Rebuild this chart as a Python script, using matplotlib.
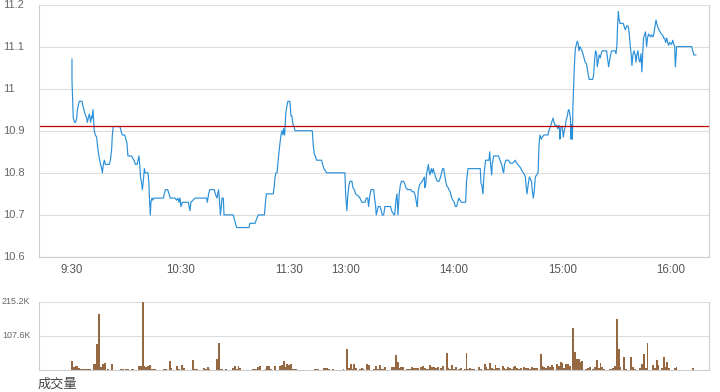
import numpy as np
import matplotlib.pyplot as plt

# Intraday price (minutes after 9:30, lunch break squeezed out, 13:00 = 151)
price_min = [0, 0, 0.5, 0.7, 1.5, 2, 2.6, 3, 3.5, 4, 5.5, 6, 6.6, 7.2, 8.1, 8.5, 9, 9.6, 10, 10.3,
             10.9, 11.2, 11.6, 12, 12.3, 12.9, 13.6, 14.2, 14.7, 15.3, 15.8, 16.4, 16.8, 17.3, 17.9,
             18.4, 20.6, 21.2, 21.9, 22.3, 22.8, 26.5, 27.1, 27.8, 29.1, 29.8, 30.4, 30.9, 33, 33.5,
             34.3, 35, 35.9, 36.5, 37, 37.4, 37.9, 38.5, 38.9, 39.4, 40, 40.5, 42, 42.5, 42.9, 43.3,
             43.6, 44.2, 44.6, 45.3, 50.5, 51, 51.7, 52.9, 53.6, 54.3, 56.9, 57.8, 58.6, 59.1, 59.7,
             60.2, 61, 64.3, 65.2, 65.7, 68, 74.4, 74.8, 75.5, 76.2, 78.6, 79.2, 80.1, 81, 81.4, 82,
             82.5, 82.9, 83.6, 84, 89.1, 89.7, 91, 97.8, 98.3, 101.1, 102, 102.9, 106.3, 106.8, 107.4,
             111.2, 111.8, 112.2, 112.7, 113.3, 113.8, 114.4, 114.9, 115.5, 116, 116.6, 116.9, 117.5,
             117.9, 118.2, 118.8, 119.3, 120.4, 121, 121.5, 122.1, 122.7, 123.2, 132.8, 133.3, 133.9,
             134.4, 135.2, 137.9, 138.5, 139.2, 140.7, 150.8, 151.2, 151.9, 152.4, 153, 153.6, 154.7,
             155.2, 156, 156.7, 158.2, 159.1, 160.2, 161.9, 162.6, 163.4, 163.9, 164.5, 165.2, 166.7,
             167.2, 167.8, 168.1, 168.7, 169.2, 170.2, 170.9, 171.4, 172.2, 172.9, 176, 176.6, 177.9,
             178.3, 179, 179.6, 180.1, 180.8, 181.4, 182, 183.1, 183.8, 184.5, 185.4, 187.3, 188, 189,
             189.7, 190.3, 190.8, 191.3, 191.9, 192.6, 193.6, 194.1, 194.7, 194.9, 195.4, 196, 196.5,
             196.9, 197.3, 197.8, 198.5, 199.1, 199.6, 200.2, 200.9, 201.8, 202.8, 203.7, 204.2, 204.8,
             205.4, 205.9, 206.5, 207, 207.8, 208.3, 209, 209.8, 210.5, 211.2, 211.8, 212.5, 213.1,
             213.8, 214.4, 215.1, 217.5, 218, 218.8, 225.6, 226, 226.5, 227.1, 227.4, 228, 228.6, 230.4,
             230.8, 231.3, 231.9, 232.2, 233, 235.7, 236.5, 237.4, 238.1, 238.5, 239, 239.8, 241.2, 242,
             243.6, 244.4, 244.9, 245.7, 246.4, 247.3, 248.1, 248.6, 249.4, 250.1, 250.5, 251, 251.4,
             252, 252.7, 253.3, 253.9, 254.3, 254.9, 255.5, 256, 256.7, 257.5, 258.1, 258.6, 259.3,
             259.9, 260.8, 263, 263.5, 264.3, 265, 265.8, 266.3, 266.9, 267.8, 268.4, 269.1, 269.5,
             269.6, 270.2, 270.9, 271.5, 272, 272.6, 273, 273.7, 274.3, 274.8, 275.4, 275.7, 276.1,
             276.5, 276.8, 277.2, 277.6, 278.1, 278.6, 279.2, 279.7, 280.1, 280.7, 281.2, 281.8, 282.5,
             283.1, 283.6, 284.2, 284.7, 285.3, 285.8, 287.7, 288.2, 288.8, 289.3, 289.9, 290.2, 290.8,
             291.3, 291.9, 292.4, 293, 295.4, 296, 296.5, 297.1, 297.6, 298.2, 300, 300.6, 301.1, 301.5,
             301.9, 302.2, 302.8, 304.6, 305.2, 305.7, 306.3, 306.8, 307.4, 307.9, 308.5, 309, 309.4,
             309.9, 310.5, 311.2, 311.6, 312.1, 312.7, 313.2, 313.8, 314.4, 314.9, 315.3, 315.8, 316.4,
             316.9, 317.5, 318, 318.6, 319.7, 320.2, 321, 321.5, 322.1, 322.7, 323.2, 323.8, 324.3,
             325.6, 326.4, 326.9, 327.5, 328, 328.6, 329.1, 329.7, 330.2, 331.3, 331.9, 332.4, 333,
             333.4, 333.8, 334.1, 342.4, 343, 343.6, 344.7]
price_val = [11.07, 11.02, 10.95, 10.93, 10.92, 10.92, 10.93, 10.95, 10.96, 10.97, 10.97, 10.96, 10.95,
             10.94, 10.93, 10.92, 10.93, 10.94, 10.93, 10.92, 10.935, 10.93, 10.95, 10.92, 10.90, 10.89,
             10.885, 10.86, 10.845, 10.83, 10.82, 10.81, 10.80, 10.82, 10.83, 10.82, 10.82, 10.83,
             10.855, 10.89, 10.91, 10.91, 10.90, 10.89, 10.89, 10.88, 10.87, 10.84, 10.84, 10.835,
             10.83, 10.82, 10.82, 10.83, 10.84, 10.82, 10.79, 10.775, 10.76, 10.78, 10.81, 10.80, 10.80,
             10.775, 10.73, 10.70, 10.73, 10.74, 10.735, 10.74, 10.74, 10.75, 10.76, 10.76, 10.75,
             10.74, 10.74, 10.735, 10.74, 10.73, 10.74, 10.72, 10.73, 10.73, 10.71, 10.73, 10.74, 10.74,
             10.73, 10.75, 10.76, 10.76, 10.75, 10.74, 10.76, 10.74, 10.70, 10.72, 10.74, 10.74, 10.70,
             10.70, 10.69, 10.67, 10.67, 10.68, 10.68, 10.69, 10.70, 10.70, 10.725, 10.75, 10.75, 10.77,
             10.79, 10.80, 10.80, 10.825, 10.85, 10.87, 10.89, 10.90, 10.89, 10.905, 10.89, 10.92,
             10.945, 10.96, 10.97, 10.97, 10.935, 10.935, 10.915, 10.91, 10.90, 10.90, 10.865, 10.845,
             10.84, 10.83, 10.83, 10.82, 10.81, 10.80, 10.80, 10.75, 10.71, 10.745, 10.77, 10.78, 10.78,
             10.765, 10.76, 10.75, 10.745, 10.74, 10.73, 10.73, 10.74, 10.74, 10.72, 10.745, 10.76,
             10.76, 10.74, 10.72, 10.70, 10.71, 10.72, 10.72, 10.71, 10.70, 10.70, 10.72, 10.72, 10.71,
             10.70, 10.70, 10.735, 10.75, 10.70, 10.75, 10.77, 10.78, 10.78, 10.775, 10.765, 10.76,
             10.76, 10.755, 10.755, 10.745, 10.73, 10.72, 10.755, 10.77, 10.775, 10.78, 10.785, 10.79,
             10.765, 10.77, 10.80, 10.81, 10.82, 10.805, 10.795, 10.81, 10.80, 10.81, 10.80, 10.79,
             10.78, 10.78, 10.79, 10.80, 10.81, 10.81, 10.795, 10.78, 10.77, 10.765, 10.76, 10.755,
             10.74, 10.735, 10.73, 10.72, 10.72, 10.73, 10.74, 10.735, 10.73, 10.73, 10.78, 10.81, 10.81,
             10.775, 10.77, 10.75, 10.78, 10.81, 10.83, 10.83, 10.85, 10.82, 10.795, 10.82, 10.84, 10.84,
             10.83, 10.82, 10.805, 10.80, 10.82, 10.83, 10.83, 10.823, 10.823, 10.827, 10.83, 10.823,
             10.82, 10.815, 10.81, 10.805, 10.80, 10.795, 10.79, 10.765, 10.75, 10.77, 10.79, 10.785,
             10.78, 10.76, 10.74, 10.76, 10.79, 10.795, 10.80, 10.87, 10.89, 10.88, 10.885, 10.89, 10.89,
             10.90, 10.91, 10.92, 10.93, 10.92, 10.913, 10.913, 10.905, 10.913, 10.897,
             10.88, 10.91, 10.91, 10.885, 10.90, 10.91, 10.925, 10.935, 10.95, 10.948, 10.93, 10.88,
             10.915, 10.88, 10.96, 11.01, 11.055, 11.095, 11.103, 11.113, 11.107, 11.09, 11.10, 11.095,
             11.09, 11.08, 11.07, 11.062, 11.06, 11.048, 11.032, 11.022, 11.022, 11.032, 11.07, 11.09,
             11.083, 11.052, 11.067, 11.08, 11.073, 11.083, 11.09, 11.09, 11.07, 11.052, 11.067, 11.08,
             11.09, 11.09, 11.083, 11.105, 11.155, 11.183, 11.167, 11.155, 11.155, 11.147, 11.14,
             11.147, 11.15, 11.147, 11.13, 11.10, 11.08, 11.055, 11.08, 11.09, 11.08, 11.063, 11.08,
             11.09, 11.07, 11.063, 11.083, 11.04, 11.08, 11.12, 11.128, 11.135, 11.10, 11.12, 11.13,
             11.123, 11.128, 11.123, 11.13, 11.147, 11.163, 11.153, 11.145, 11.14, 11.13, 11.127, 11.12,
             11.12, 11.11, 11.12, 11.11, 11.103, 11.11, 11.105, 11.115, 11.108, 11.10, 11.052, 11.08,
             11.10, 11.10, 11.09, 11.08, 11.08]
prev_close = 10.912

# Volume per minute, in thousands
vol_min = [0, 1, 2, 3, 4, 5, 6, 7, 8, 9, 10, 12, 13, 14, 15, 16, 17, 18, 20, 22, 27, 28, 30, 31, 33, 34,
           37, 38, 39, 40, 41, 42, 43, 44, 45, 46, 51, 52, 54, 55, 58, 59, 61, 62, 67, 68, 69, 73, 74,
           75, 76, 80, 81, 82, 83, 85, 89, 90, 91, 92, 93, 100, 101, 102, 103, 104, 107, 108, 109, 110,
           112, 115, 116, 117, 118, 119, 120, 121, 122, 123, 124, 134, 135, 136, 139, 140, 141, 142,
           144, 150, 152, 153, 154, 155, 156, 157, 159, 160, 161, 163, 164, 167, 168, 169, 170, 171,
           172, 173, 177, 178, 179, 180, 181, 182, 183, 185, 186, 187, 188, 189, 190, 191, 193, 194,
           195, 196, 197, 198, 199, 200, 201, 202, 204, 205, 207, 208, 209, 210, 211, 212, 214, 215,
           217, 218, 219, 220, 221, 222, 225, 226, 228, 229, 230, 231, 232, 233, 234, 235, 236, 238,
           239, 240, 241, 242, 243, 244, 245, 246, 247, 248, 250, 251, 252, 253, 254, 255, 256, 257,
           259, 260, 261, 262, 263, 264, 265, 266, 268, 269, 270, 271, 272, 273, 274, 275, 277, 278,
           279, 280, 281, 282, 284, 285, 286, 288, 289, 290, 291, 292, 293, 294, 297, 298, 299, 300,
           301, 302, 303, 305, 306, 309, 310, 311, 314, 315, 316, 317, 318, 321, 322, 323, 324, 326,
           327, 328, 329, 330, 333, 334, 343]
vol_k = [27, 8, 14, 12, 7, 2, 2, 2, 2, 2, 2, 20, 18, 82, 177, 10, 18, 21, 2, 18, 2, 2, 2, 2, 2, 2,
         12, 12, 215.2, 12, 10, 13, 15, 3, 2, 2, 4, 2, 27, 6, 13, 4, 15, 7, 31, 2, 2, 6, 3,
         8, 4, 34, 85, 2, 2, 3, 5, 12, 3, 12, 5, 2, 2, 2, 10, 12, 4, 12, 12, 2,
         12, 12, 15, 27, 10, 18, 16, 18, 2, 2, 2, 2, 2, 2, 5, 5, 5, 2,
         3, 4, 67, 5, 18, 3, 18, 5, 3, 6, 3, 18, 15, 2, 12, 2, 16, 2,
         2, 10, 8, 8, 48, 25, 7, 8, 8, 4, 4, 4, 8, 5, 5, 5, 8, 12,
         7, 3, 3, 15, 8, 8, 5, 8, 5, 12, 54, 7, 3, 15, 4, 8, 3, 6,
         2, 54, 4, 5, 3, 4, 8, 4, 18, 10, 3, 22, 7, 4, 15, 7, 5, 12,
         5, 4, 9, 7, 4, 9, 12, 7, 2, 5, 8, 5, 6, 4, 8, 5, 5, 6,
         50, 14, 8, 7, 13, 8, 15, 10, 18, 13, 24, 21, 7, 18, 18, 13, 132, 56,
         34, 34, 26, 28, 2, 7, 10, 3, 9, 31, 7, 21, 10, 4, 4, 4, 7, 14,
         161, 66, 8, 41, 2, 40, 8, 2, 5, 18, 50, 5, 86, 15, 7, 31, 16, 5,
         40, 10, 25, 6, 5, 8, 6]

tick_min = [0, 60, 120, 151, 211, 271, 331]
tick_labels = ['9:30', '10:30', '11:30', '13:00', '14:00', '15:00', '16:00']
price_ticks = [11.2, 11.1, 11.0, 10.9, 10.8, 10.7, 10.6]
price_tick_labels = ['11.2', '11.1', '11', '10.9', '10.8', '10.7', '10.6']
vol_ticks = [107.6, 215.2]
vol_tick_labels = ['107.6K', '215.2K']

plt.rcParams['font.family'] = ['Liberation Sans', 'Noto Sans CJK SC', 'DejaVu Sans']

W, H = 720, 392
fig = plt.figure(figsize=(W / 100, H / 100), dpi=100)

frame = '#cccccc'
grid = '#dddddd'
label_col = '#666666'
xmin, xmax = -18.5, 351.7

# price panel
ax = fig.add_axes([38.5 / W, 135 / H, 670 / W, 252.5 / H])
ax.plot(price_min, price_val, color='#2b90d9', lw=0.85)
ax.axhline(prev_close, color='#c00000', lw=0.9)
ax.set_xlim(xmin, xmax)
ax.set_ylim(10.6, 11.2)
ax.set_yticks(price_ticks)
ax.grid(axis='y', color=grid, lw=0.8)
ax.set_axisbelow(True)
ax.tick_params(axis='y', length=0, labelleft=False)
ax.set_xticks(tick_min, tick_labels)
ax.tick_params(axis='x', length=0, pad=5, labelsize=8.3, labelcolor='#555555')
ax.spines['top'].set_visible(False)
for s in ['left', 'right', 'bottom']:
    ax.spines[s].set_color(frame)
    ax.spines[s].set_linewidth(0.8)
for v, lab in zip(price_ticks, price_tick_labels):
    ax.text(-35.5 / 670, v, lab, transform=ax.get_yaxis_transform(), ha='left', va='center',
            fontsize=8, color=label_col)

# volume panel
vax = fig.add_axes([38.5 / W, 22 / H, 670 / W, 68 / H])
vax.bar(vol_min, vol_k, width=1.05, color='#956842', linewidth=0)
vax.set_xlim(xmin, xmax)
vax.set_ylim(0, 215.2)
vax.set_yticks(vol_ticks)
vax.set_xticks([])
vax.grid(axis='y', color=grid, lw=0.8)
vax.set_axisbelow(True)
vax.tick_params(axis='y', length=0, labelleft=False)
for s in vax.spines.values():
    s.set_color(frame)
    s.set_linewidth(0.8)
vax.spines['top'].set_visible(False)
for v, lab in zip(vol_ticks, vol_tick_labels):
    vax.text(-36.5 / 670, v, lab, transform=vax.get_yaxis_transform(), ha='left', va='center',
             fontsize=6.4, color=label_col)

fig.text(38 / W, 1 - 385 / H, '成交量', ha='left', va='center', fontsize=9.5, color='#444444')

fig.savefig('out.png', dpi=100)
